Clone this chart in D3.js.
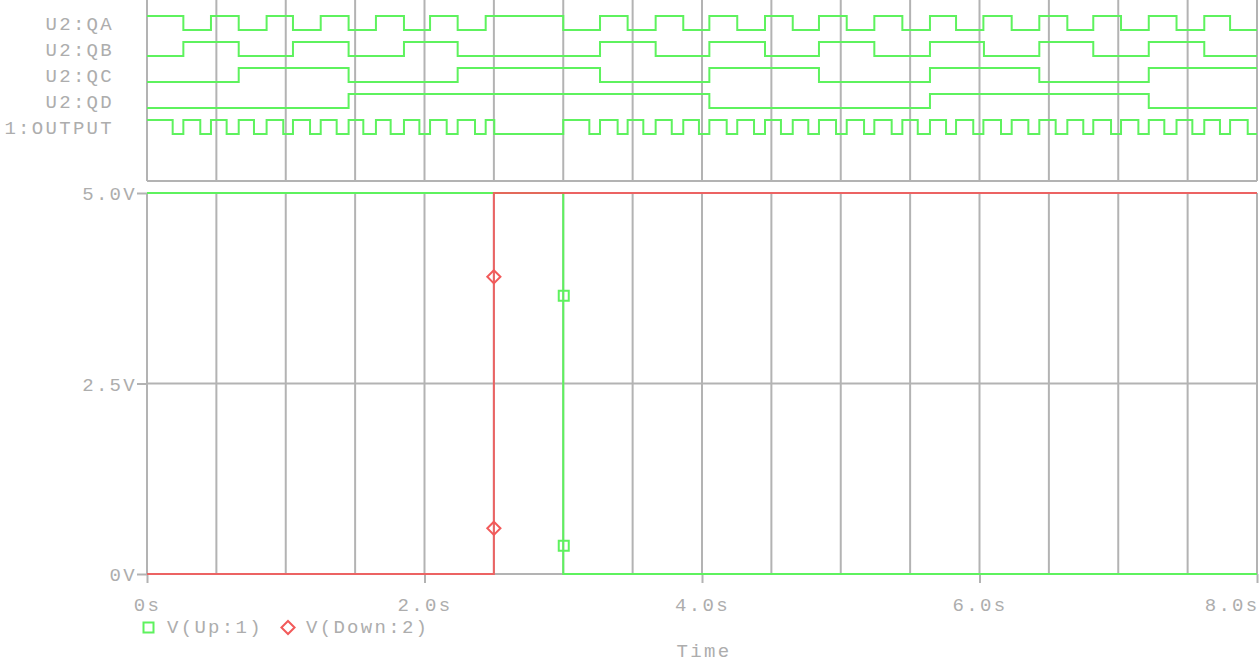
<!DOCTYPE html>
<html>
<head>
<meta charset="utf-8">
<script src="https://cdn.jsdelivr.net/npm/d3@7"></script>
<style>
  html, body { margin: 0; padding: 0; background: #fff; }
  svg { display: block; }
  .lbl { font-family: "Liberation Mono", monospace; font-size: 19px; letter-spacing: 2.3px; fill: #adadad; }
</style>
</head>
<body>
<svg id="chart" width="1259" height="663"></svg>
<script>
// digital traces: initial level + toggle times (s)
const signalNames = ['U2:QA', 'U2:QB', 'U2:QC', 'U2:QD', '1:OUTPUT'];
const qaStart = 1;
const qaEdges = [0.262, 0.461, 0.661, 0.862, 1.052, 1.252, 1.453, 1.650, 1.852, 2.040, 2.239, 2.441,
  3.000, 3.265, 3.464, 3.666, 3.865, 4.053, 4.254, 4.454, 4.654, 4.843, 5.043, 5.242, 5.444, 5.643,
  5.831, 6.028, 6.232, 6.431, 6.633, 6.820, 7.020, 7.220, 7.420, 7.620, 7.806];
const qbStart = 0;
const qbEdges = [0.262, 0.661, 1.052, 1.453, 1.852, 2.239, 3.265, 3.666, 4.053, 4.454, 4.843, 5.242,
  5.643, 6.032, 6.431, 6.820, 7.220, 7.620];
const qcStart = 0;
const qcEdges = [0.661, 1.453, 2.239, 3.265, 4.053, 4.843, 5.643, 6.431, 7.220];
const qdStart = 0;
const qdEdges = [1.453, 4.053, 5.643, 7.220];
const outStart = 1;
const outFall = [0.185, 0.384, 0.574, 0.771, 0.982, 1.175, 1.367, 1.559, 1.756, 1.963, 2.160, 2.364,
  2.503, 3.188, 3.392, 3.577, 3.782, 3.978, 4.178, 4.375, 4.569, 4.766, 4.966, 5.168, 5.367, 5.555,
  5.759, 5.955, 6.155, 6.352, 6.549, 6.748, 6.948, 7.145, 7.332, 7.534, 7.733, 7.933];
const outRise = [0.262, 0.461, 0.661, 0.862, 1.052, 1.252, 1.453, 1.650, 1.852, 2.040, 2.239, 2.441,
  3.000, 3.265, 3.464, 3.666, 3.865, 4.053, 4.254, 4.454, 4.654, 4.843, 5.043, 5.242, 5.444, 5.643,
  5.831, 6.028, 6.232, 6.431, 6.633, 6.820, 7.020, 7.220, 7.420, 7.620, 7.806];

// analog traces
const upTime = [0, 3.0, 3.0, 8.0];
const upVolt = [5, 5, 0, 0];
const downTime = [0, 2.5, 2.5, 8.0];
const downVolt = [0, 0, 5, 5];
const upMarkT = [3.0, 3.0];
const upMarkV = [3.65, 0.37];
const downMarkT = [2.5, 2.5];
const downMarkV = [3.90, 0.60];

const xTicks = [0, 2, 4, 6, 8];
const xTickLabels = ['0s', '2.0s', '4.0s', '6.0s', '8.0s'];
const yTicks = [0, 2.5, 5];
const yTickLabels = ['0V', '2.5V', '5.0V'];
const legendNames = ['V(Up:1)', 'V(Down:2)'];

const W = 1259;
const GREEN = '#5ef25e';
const RED = '#f25a5a';
const GRID = '#b3b3b3';

const svg = d3.select('#chart');
const x = d3.scaleLinear().domain([0, 8]).range([147, 1257]);
const y = d3.scaleLinear().domain([0, 5]).range([574, 193]);
const row = d3.scaleBand().domain(signalNames).range([10, 140]);
const level = d3.scaleLinear().domain([0, 1]).range([20, 6]);

function steps(start, edges) {
  let lv = start;
  const pts = [[0, lv]];
  edges.forEach((t) => {
    pts.push([t, lv]);
    lv = 1 - lv;
    pts.push([t, lv]);
  });
  pts.push([8, lv]);
  return pts;
}

const digital = [
  steps(qaStart, qaEdges),
  steps(qbStart, qbEdges),
  steps(qcStart, qcEdges),
  steps(qdStart, qdEdges),
  steps(outStart, outFall.concat(outRise).sort((a, b) => a - b))
];

// grid verticals (both panes)
const gridT = x.ticks(16);
svg.append('g').selectAll('line').data(gridT).join('line')
  .attr('x1', (d) => x(d)).attr('x2', (d) => x(d))
  .attr('y1', 0).attr('y2', 181)
  .attr('stroke', GRID).attr('stroke-width', 2);
svg.append('line').attr('x1', x(0)).attr('x2', x(8)).attr('y1', 181).attr('y2', 181)
  .attr('stroke', GRID).attr('stroke-width', 2);

svg.append('g').selectAll('line').data(gridT).join('line')
  .attr('x1', (d) => x(d)).attr('x2', (d) => x(d))
  .attr('y1', y(5)).attr('y2', y(0))
  .attr('stroke', GRID).attr('stroke-width', 2);
svg.append('g').selectAll('line').data(yTicks).join('line')
  .attr('x1', x(0)).attr('x2', x(8))
  .attr('y1', (d) => y(d)).attr('y2', (d) => y(d))
  .attr('stroke', GRID).attr('stroke-width', 2);

// axes
const yAxis = svg.append('g').attr('transform', `translate(${x(0)},0)`)
  .call(d3.axisLeft(y).tickValues(yTicks).tickSize(10).tickPadding(3)
    .tickFormat((d, i) => yTickLabels[i]));
const xAxis = svg.append('g').attr('transform', `translate(0,${y(0)})`)
  .call(d3.axisBottom(x).tickValues(xTicks).tickSize(9).tickPadding(14)
    .tickFormat((d, i) => xTickLabels[i]));
[yAxis, xAxis].forEach((g) => {
  g.select('.domain').remove();
  g.selectAll('.tick line').attr('stroke', GRID).attr('stroke-width', 2);
  g.selectAll('.tick text').attr('class', 'lbl').attr('font-family', null).attr('font-size', null);
});
yAxis.selectAll('.tick text').attr('dy', '0.36em').attr('x', -10);
xAxis.selectAll('.tick text').attr('dy', '0.72em');
// keep the last x label inside the window, like the original
xAxis.selectAll('.tick text').each(function (d) {
  const w = this.getComputedTextLength();
  const cx = x(d);
  if (cx + w / 2 > W - 1) d3.select(this).attr('x', W - 1 - w / 2 - cx + 1);
});

// digital traces
const dline = d3.line();
digital.forEach((pts, i) => {
  const name = signalNames[i];
  svg.append('path')
    .attr('d', dline(pts.map((p) => [x(p[0]), row(name) + level(p[1])])))
    .attr('fill', 'none').attr('stroke', GREEN).attr('stroke-width', 2);
  svg.append('text').attr('class', 'lbl')
    .attr('x', 114).attr('y', row(name) + 20)
    .attr('text-anchor', 'end').text(name);
});

// analog traces
const aline = d3.line().x((d) => x(d[0])).y((d) => y(d[1]));
svg.append('path').attr('d', aline(upTime.map((t, i) => [t, upVolt[i]])))
  .attr('fill', 'none').attr('stroke', GREEN).attr('stroke-width', 2);
svg.append('path').attr('d', aline(downTime.map((t, i) => [t, downVolt[i]])))
  .attr('fill', 'none').attr('stroke', RED).attr('stroke-width', 2).attr('stroke-opacity', 0.9);

const sq = d3.symbol().type(d3.symbolSquare).size(100);
const dm = d3.symbol().type(d3.symbolDiamond2).size(110);
svg.append('g').selectAll('path').data(upMarkT).join('path')
  .attr('d', sq).attr('transform', (d, i) => `translate(${x(d) + 0.5},${y(upMarkV[i])})`)
  .attr('fill', 'none').attr('stroke', GREEN).attr('stroke-width', 2);
svg.append('g').selectAll('path').data(downMarkT).join('path')
  .attr('d', dm).attr('transform', (d, i) => `translate(${x(d)},${y(downMarkV[i])})`)
  .attr('fill', 'none').attr('stroke', RED).attr('stroke-width', 2);

// legend
const leg = svg.append('g');
leg.append('path').attr('d', sq).attr('transform', 'translate(148.5,627.5)')
  .attr('fill', 'none').attr('stroke', GREEN).attr('stroke-width', 2);
leg.append('text').attr('class', 'lbl').attr('x', 167).attr('y', 633).text(legendNames[0]);
leg.append('path').attr('d', dm).attr('transform', 'translate(288,627.5)')
  .attr('fill', 'none').attr('stroke', RED).attr('stroke-width', 2);
leg.append('text').attr('class', 'lbl').attr('x', 306).attr('y', 633).text(legendNames[1]);

svg.append('text').attr('class', 'lbl')
  .attr('x', (x(0) + x(8)) / 2 + 2).attr('y', 657)
  .attr('text-anchor', 'middle').text('Time');
</script>
</body>
</html>
